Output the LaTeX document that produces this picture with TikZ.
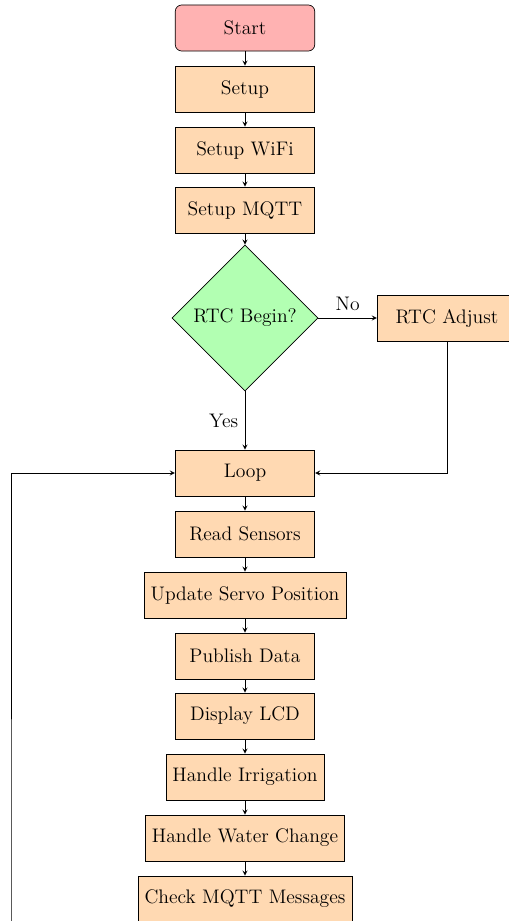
\documentclass[tikz,border=0pt,12pt]{standalone}
\usetikzlibrary{shapes.geometric,arrows}
\begin{document}
\begin{tikzpicture}[x=0.021505cm,y=-0.021505cm,>=stealth,
  procbox/.style={rectangle,draw,fill=orange!30,minimum width=3cm,minimum height=0.99cm,inner sep=0.333em},
  startbox/.style={rectangle,rounded corners,draw,fill=red!30,minimum width=3cm,minimum height=0.99cm},
  decbox/.style={diamond,draw,fill=green!30,minimum width=3.14cm,minimum height=3.14cm,aspect=1,inner sep=0pt},
  flow/.style={->}]
\useasboundingbox (0,0) rectangle (508,921);
\node[startbox] (start) at (245,28) {Start};
\node[procbox] (setup) at (245,89) {Setup};
\node[procbox] (wifi) at (245,150) {Setup WiFi};
\node[procbox] (mqtt) at (245,210) {Setup MQTT};
\node[decbox] (rtc) at (245,318) {RTC Begin?};
\node[procbox] (adjust) at (447,318) {RTC Adjust};
\node[procbox] (loop) at (245,473) {Loop};
\node[procbox] (read) at (245,534) {Read Sensors};
\node[procbox] (servo) at (245,595) {Update Servo Position};
\node[procbox] (publish) at (245,656) {Publish Data};
\node[procbox] (lcd) at (245,716) {Display LCD};
\node[procbox] (irr) at (245,777) {Handle Irrigation};
\node[procbox] (water) at (245,838) {Handle Water Change};
\node[procbox] (check) at (245,899) {Check MQTT Messages};
\coordinate (back) at (11,960);
\draw[flow] (start) -- (setup);
\draw[flow] (setup) -- (wifi);
\draw[flow] (wifi) -- (mqtt);
\draw[flow] (mqtt) -- (rtc);
\draw[flow] (rtc) -- node[above] {No} (adjust);
\draw[flow] (rtc) -- node[left] {Yes} (loop);
\draw[flow] (adjust.south) |- (loop.east);
\draw[flow] (loop) -- (read);
\draw[flow] (read) -- (servo);
\draw[flow] (servo) -- (publish);
\draw[flow] (publish) -- (lcd);
\draw[flow] (lcd) -- (irr);
\draw[flow] (irr) -- (water);
\draw[flow] (water) -- (check);
\draw[flow] (check.south) -- ++(0,20) -| (back) |- (loop.west);
\end{tikzpicture}
\end{document}
